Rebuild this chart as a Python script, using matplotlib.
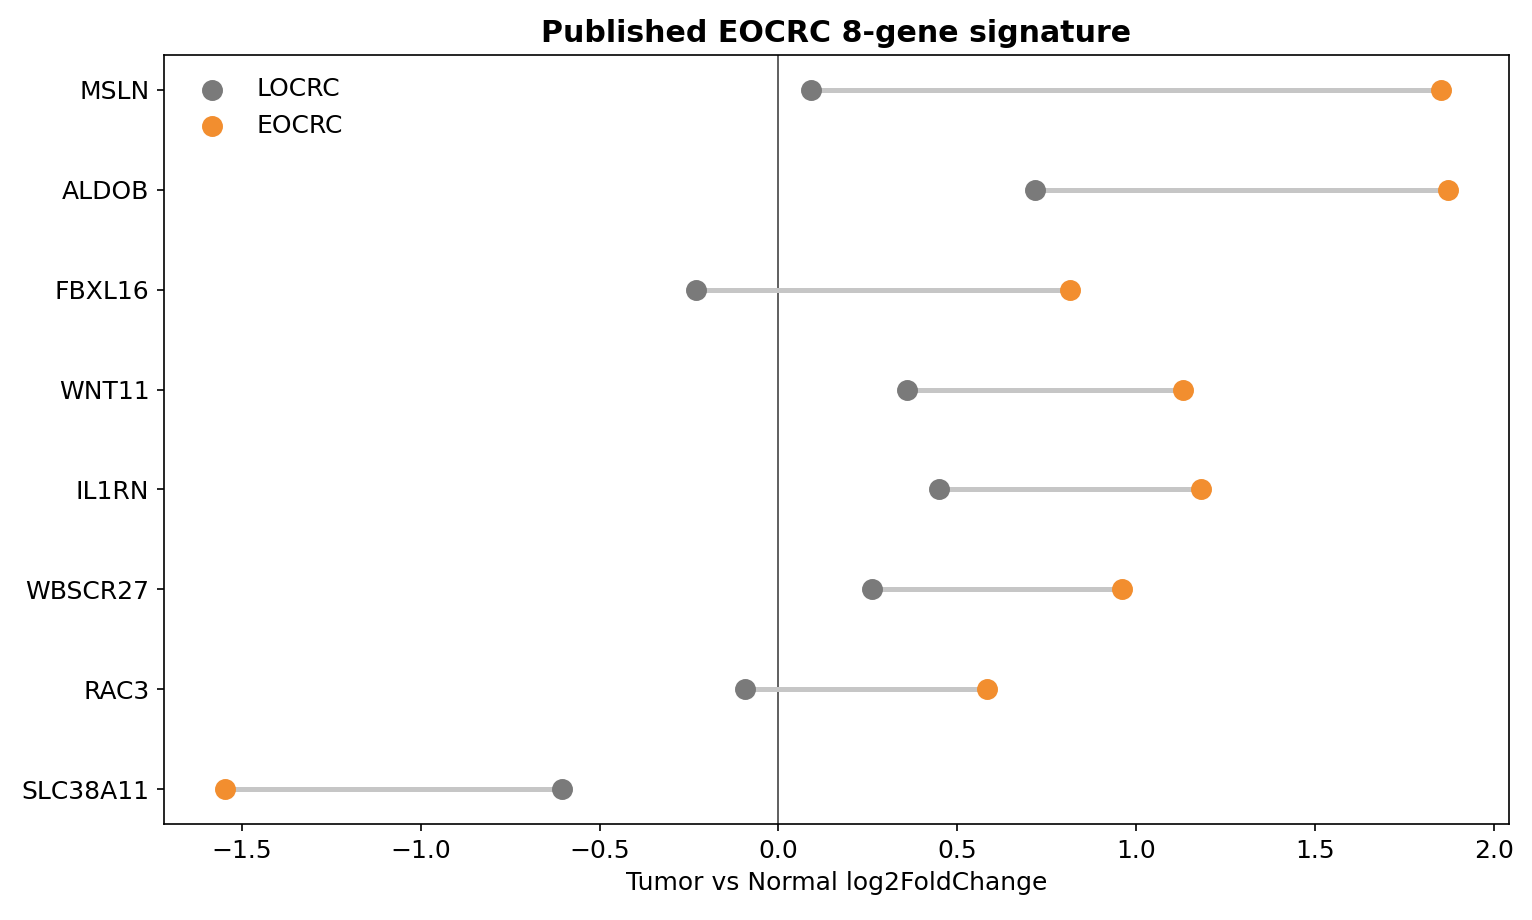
import matplotlib
matplotlib.use("Agg")
import matplotlib.pyplot as plt

plt.rcParams["font.size"] = 12

genes = ["SLC38A11", "RAC3", "WBSCR27", "IL1RN", "WNT11", "FBXL16", "ALDOB", "MSLN"]
locrc = [-0.606, -0.092, 0.263, 0.450, 0.360, -0.229, 0.718, 0.092]
eocrc = [-1.547, 0.584, 0.961, 1.182, 1.131, 0.816, 1.872, 1.852]

fig, ax = plt.subplots(figsize=(1532/150, 920/150), dpi=150)
ypos = list(range(len(genes)))
ax.hlines(ypos, locrc, eocrc, color="#c6c6c6", lw=2.4, zorder=1)
ax.axvline(0, color="#444444", lw=0.8, zorder=0)
ax.scatter(locrc, ypos, s=82, color="#7a7a7a", label="LOCRC", zorder=3)
ax.scatter(eocrc, ypos, s=82, color="#f28e2f", label="EOCRC", zorder=3)
ax.set_yticks(ypos)
ax.set_yticklabels(genes)
ax.set_xlabel("Tumor vs Normal log2FoldChange")
ax.set_title("Published EOCRC 8-gene signature", fontweight="bold")
ax.legend(loc="upper left", frameon=False)
fig.subplots_adjust(left=164/1532, right=1509/1532, top=1-55/920, bottom=1-824/920)
fig.savefig("out.png", dpi=150)
